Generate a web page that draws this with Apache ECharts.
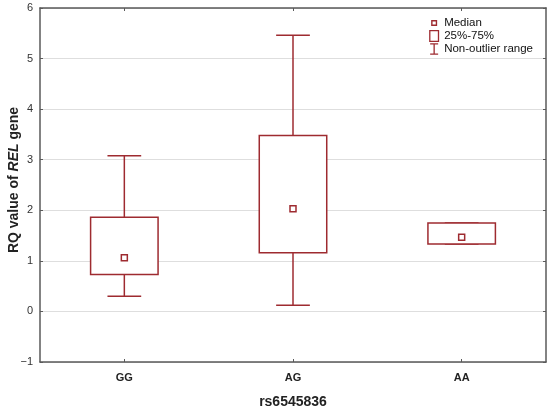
<!DOCTYPE html>
<html><head><meta charset="utf-8">
<script src="https://cdn.jsdelivr.net/npm/echarts@6/dist/echarts.min.js"></script>
<style>html,body{margin:0;padding:0;background:#fff}#c{width:550px;height:408px}</style>
</head><body><div id="c"></div>
<script>
var categories = ['GG', 'AG', 'AA'];
var whiskerMin = [0.30, 0.12, 1.335];
var q1 = [0.73, 1.16, 1.335];
var median = [1.06, 2.03, 1.465];
var q3 = [1.86, 3.48, 1.75];
var whiskerMax = [3.08, 5.46, 1.75];
var yTicks = [-1, 0, 1, 2, 3, 4, 5, 6];

var RED = '#9e2b30';
var FONT = 'Liberation Sans, Arial, sans-serif';

var rows = categories.map(function (c, i) {
  return [i, whiskerMin[i], q1[i], median[i], q3[i], whiskerMax[i]];
});

function renderBox(params, api) {
  var x = api.value(0);
  var pLo = api.coord([x, api.value(2)]);
  var pHi = api.coord([x, api.value(4)]);
  var bw = api.size([1, 0])[0] * 0.4;
  return {
    type: 'rect',
    shape: { x: pLo[0] - bw / 2, y: pHi[1], width: bw, height: pLo[1] - pHi[1] },
    style: { fill: '#fff', stroke: RED, lineWidth: 1.5 }
  };
}
function renderWhisker(params, api) {
  var x = api.value(0);
  var pMin = api.coord([x, api.value(1)]);
  var pQ1 = api.coord([x, api.value(2)]);
  var pQ3 = api.coord([x, api.value(4)]);
  var pMax = api.coord([x, api.value(5)]);
  var cw = api.size([1, 0])[0] * 0.2;
  var st = { stroke: RED, lineWidth: 1.5, fill: null };
  var cx = pMin[0];
  return {
    type: 'group',
    children: [
      { type: 'line', shape: { x1: cx, y1: pQ3[1], x2: cx, y2: pMax[1] }, style: st },
      { type: 'line', shape: { x1: cx, y1: pQ1[1], x2: cx, y2: pMin[1] }, style: st },
      { type: 'line', shape: { x1: cx - cw / 2, y1: pMax[1], x2: cx + cw / 2, y2: pMax[1] }, style: st },
      { type: 'line', shape: { x1: cx - cw / 2, y1: pMin[1], x2: cx + cw / 2, y2: pMin[1] }, style: st }
    ]
  };
}

var chart = echarts.init(document.getElementById('c'), null, { renderer: 'canvas' });
var axisLineStyle = { color: '#5a5a5a', width: 1.5 };
chart.setOption({
  animation: false,
  backgroundColor: '#fff',
  textStyle: { fontFamily: FONT },
  grid: { left: 40, right: 4, top: 8, bottom: 46, containLabel: false, outerBoundsMode: 'none' },
  legend: {
    orient: 'vertical',
    right: 12,
    top: 12,
    itemWidth: 10,
    itemHeight: 12,
    itemGap: 1,
    textStyle: { fontSize: 11.5, color: '#111', fontFamily: FONT },
    selectedMode: false,
    data: [
      { name: 'Median', icon: 'path://M0,0L0,0M10,12L10,12M2,3h6v6h-6zM3.4,4.4v3.2h3.2v-3.2z', itemStyle: { color: RED, borderWidth: 0 } },
      { name: '25%-75%', icon: 'path://M0,0h10v12h-10zM1.3,1.3v9.4h7.4v-9.4z', itemStyle: { color: RED, borderWidth: 0 } },
      { name: 'Non-outlier range', icon: 'path://M0,0L0,0M10,12L10,12M1,0.3h8v1.3h-8zM4.35,1.6h1.3v8.8h-1.3zM1,10.4h8v1.3h-8z', itemStyle: { color: RED, borderWidth: 0 } }
    ]
  },
  xAxis: [{
    type: 'category',
    data: categories,
    name: 'rs6545836',
    nameLocation: 'middle',
    nameGap: 33,
    nameTextStyle: { fontSize: 14, fontWeight: 'bold', color: '#222', fontFamily: FONT },
    axisLine: { show: true, onZero: false, lineStyle: axisLineStyle },
    axisTick: { show: true, inside: true, alignWithLabel: true, length: 3, lineStyle: { color: '#5a5a5a' } },
    axisLabel: { fontSize: 11, fontWeight: 'bold', color: '#222', margin: 10, fontFamily: FONT },
    splitLine: { show: false }
  }, {
    type: 'category',
    data: categories,
    position: 'top',
    axisLine: { show: true, onZero: false, lineStyle: axisLineStyle },
    axisTick: { show: true, inside: true, alignWithLabel: true, length: 3, lineStyle: { color: '#5a5a5a' } },
    axisLabel: { show: false },
    splitLine: { show: false }
  }],
  yAxis: [{
    type: 'value',
    min: yTicks[0],
    max: yTicks[yTicks.length - 1],
    interval: 1,
    name: '{a|RQ value of }{b|REL}{a| gene}',
    nameLocation: 'middle',
    nameGap: 19,
    nameMoveOverlap: false,
    nameTextStyle: {
      padding: [0, 0, 0, 10],
      rich: {
        a: { fontSize: 14, fontWeight: 'bold', color: '#222', fontFamily: FONT },
        b: { fontSize: 14, fontWeight: 'bold', fontStyle: 'italic', color: '#222', fontFamily: FONT }
      }
    },
    axisLine: { show: true, onZero: false, lineStyle: axisLineStyle },
    axisTick: { show: true, inside: true, length: 3, lineStyle: { color: '#5a5a5a' } },
    axisLabel: {
      fontSize: 11, color: '#333', margin: 7, fontFamily: FONT,
      formatter: function (v) { return v < 0 ? '\u2212' + Math.abs(v) : String(v); }
    },
    splitLine: { show: true, lineStyle: { color: '#dedede', width: 1.2 } }
  }, {
    type: 'value',
    min: yTicks[0],
    max: yTicks[yTicks.length - 1],
    interval: 1,
    position: 'right',
    axisLine: { show: true, onZero: false, lineStyle: axisLineStyle },
    axisTick: { show: true, inside: true, length: 3, lineStyle: { color: '#5a5a5a' } },
    axisLabel: { show: false },
    splitLine: { show: false }
  }],
  series: [{
    name: 'Non-outlier range',
    type: 'custom',
    renderItem: renderWhisker,
    data: rows,
    encode: { x: 0, y: [1, 2, 4, 5] },
    itemStyle: { color: RED },
    z: 2
  }, {
    name: '25%-75%',
    type: 'custom',
    renderItem: renderBox,
    data: rows,
    encode: { x: 0, y: [2, 4] },
    itemStyle: { color: RED },
    z: 3
  }, {
    name: 'Median',
    type: 'scatter',
    data: categories.map(function (c, i) { return [i, median[i]]; }),
    symbol: 'rect',
    symbolSize: 6,
    itemStyle: { color: '#fff', borderColor: RED, borderWidth: 1.5, opacity: 1 },
    z: 4
  }]
});
</script>
</body></html>
